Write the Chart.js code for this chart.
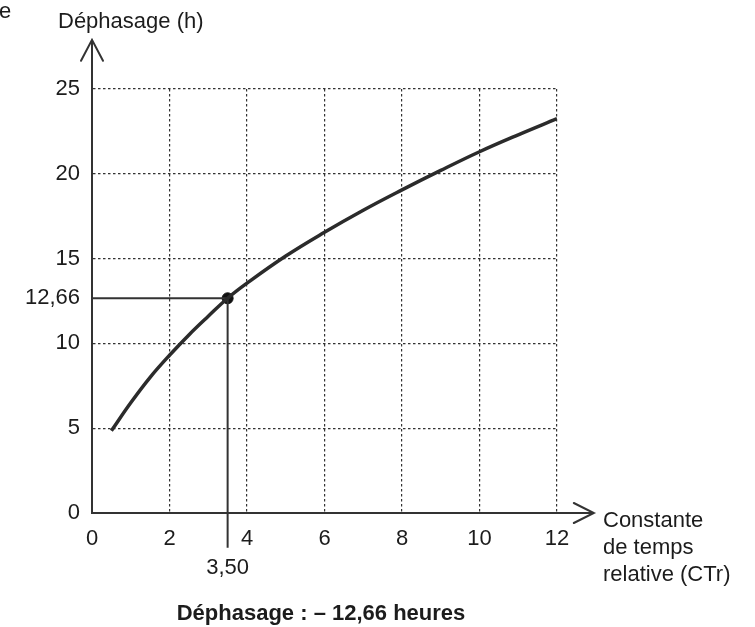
<!DOCTYPE html>
<html>
<head>
<meta charset="utf-8">
<script src="https://cdn.jsdelivr.net/npm/chart.js@4.4.1/dist/chart.umd.min.js"></script>
<style>
  html, body { margin: 0; padding: 0; background: #fff; }
  #chart { display: block; }
</style>
</head>
<body>
<canvas id="chart" width="755" height="627"></canvas>
<script>
// curve
const ctrValues = [0.5, 1, 1.5, 2, 2.5, 3, 3.5, 4, 5, 6, 7, 8, 9, 10, 11, 12];
const dephasageValues = [4.85, 6.5, 8.0, 9.3, 10.5, 11.6, 12.66, 13.55, 15.15, 16.55, 17.85, 19.05, 20.2, 21.3, 22.3, 23.25];

// reading of the chart
const readX = 3.5;
const readY = 12.66;
const readXLabel = '3,50';

const xTicks = [0, 2, 4, 6, 8, 10, 12];
const yTicks = [0, 5, 10, 15, 20, 25];

const yTitle = 'Déphasage (h)';
const xTitle = ['Constante', 'de temps', 'relative (CTr)'];
const caption = 'Déphasage : – 12,66 heures';

const ink = '#1c1c1c';
const font = 'Liberation Sans, Arial, sans-serif';

const curve = ctrValues.map((x, i) => ({ x, y: dephasageValues[i] }));

const overlay = {
  id: 'overlay',
  afterDraw(chart) {
    const { ctx, chartArea, scales: { x, y } } = chart;
    ctx.save();
    ctx.strokeStyle = '#333';
    ctx.lineWidth = 2;
    ctx.lineCap = 'round';

    // y axis extension + arrow
    const yTip = y.getPixelForValue(27.9);
    const xl = chartArea.left;
    ctx.beginPath();
    ctx.moveTo(xl, chartArea.top + 1);
    ctx.lineTo(xl, yTip);
    ctx.moveTo(xl - 11, yTip + 21);
    ctx.lineTo(xl, yTip);
    ctx.lineTo(xl + 11, yTip + 21);
    ctx.stroke();

    // x axis extension + arrow
    const xTip = x.getPixelForValue(12.95);
    const yb = chartArea.bottom;
    ctx.beginPath();
    ctx.moveTo(chartArea.right - 1, yb);
    ctx.lineTo(xTip, yb);
    ctx.moveTo(xTip - 20, yb - 10);
    ctx.lineTo(xTip, yb);
    ctx.lineTo(xTip - 20, yb + 10);
    ctx.stroke();

    ctx.fillStyle = ink;
    ctx.textBaseline = 'alphabetic';
    ctx.textAlign = 'left';
    ctx.font = '22px ' + font;
    ctx.fillText('e', -1, 18);
    ctx.fillText(yTitle, 58, 28);
    xTitle.forEach((line, i) => ctx.fillText(line, 603, 527 + i * 27));

    ctx.font = 'bold 22px ' + font;
    ctx.textAlign = 'center';
    ctx.fillText(caption, 321, 620);
    ctx.restore();
  }
};

const gridColor = (hidden) => (c) =>
  c.tick && hidden.includes(c.tick.value) ? 'rgba(0,0,0,0)' : '#333';

new Chart(document.getElementById('chart'), {
  type: 'line',
  data: {
    datasets: [
      {
        data: curve,
        borderColor: '#2b2b2b',
        borderWidth: 3.5,
        pointRadius: 0,
        tension: 0.4
      },
      {
        data: [{ x: 0, y: readY }, { x: readX, y: readY }],
        borderColor: '#333',
        borderWidth: 2,
        pointRadius: 0
      },
      {
        data: [{ x: readX, y: readY }, { x: readX, y: -2.05 }],
        borderColor: '#333',
        borderWidth: 2,
        pointRadius: 0,
        clip: false
      },
      {
        data: [{ x: readX, y: readY }],
        showLine: false,
        pointRadius: 5.5,
        pointBackgroundColor: '#111',
        pointBorderColor: '#111'
      }
    ]
  },
  options: {
    responsive: false,
    animation: false,
    layout: { padding: { left: 0, right: 198, top: 89, bottom: 0 } },
    plugins: { legend: { display: false }, tooltip: { enabled: false } },
    scales: {
      x: {
        type: 'linear',
        min: 0,
        max: 12,
        afterFit: (s) => { s.height = 114; },
        afterBuildTicks: (s) => {
          s.ticks = xTicks.concat(readX).sort((a, b) => a - b).map(v => ({ value: v }));
        },
        grid: { color: gridColor([0, readX]), lineWidth: 1.2, drawTicks: false },
        border: { display: true, color: '#333', width: 2, dash: [2.5, 2.5] },
        ticks: {
          autoSkip: false,
          maxRotation: 0,
          padding: 12,
          color: ink,
          font: { family: font, size: 22, lineHeight: 1.3 },
          callback: (v) => v === readX ? ['', readXLabel] : String(v)
        }
      },
      y: {
        min: 0,
        max: 25,
        afterFit: (s) => { s.width = 92; },
        afterBuildTicks: (s) => {
          s.ticks = yTicks.concat(readY).sort((a, b) => a - b).map(v => ({ value: v }));
        },
        grid: { color: gridColor([0, readY]), lineWidth: 1.2, drawTicks: false },
        border: { display: true, color: '#333', width: 2, dash: [2.5, 2.5] },
        ticks: {
          autoSkip: false,
          padding: 12,
          color: ink,
          font: { family: font, size: 22 },
          callback: (v) => String(v).replace('.', ',')
        }
      }
    }
  },
  plugins: [overlay]
});
</script>
</body>
</html>
